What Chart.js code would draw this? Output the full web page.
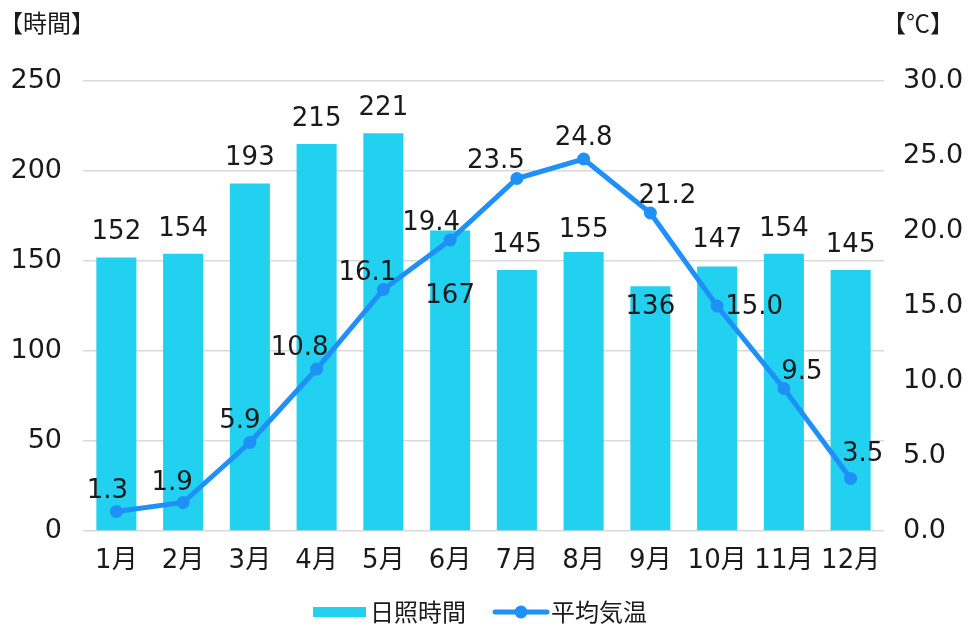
<!DOCTYPE html>
<html>
<head>
<meta charset="utf-8">
<script src="https://cdn.jsdelivr.net/npm/chart.js@4.4.1/dist/chart.umd.min.js"></script>
<style>
  html, body { margin: 0; padding: 0; background: #fff; }
  #wrap { width: 968px; height: 626px; }
</style>
</head>
<body>
<div id="wrap"><canvas id="climateChart" width="968" height="626"></canvas></div>
<script>
// ---- data ----
const months = ['1月', '2月', '3月', '4月', '5月', '6月', '7月', '8月', '9月', '10月', '11月', '12月'];
const sunshineHours = [152, 154, 193, 215, 221, 167, 145, 155, 136, 147, 154, 145];
const avgTemp = [1.3, 1.9, 5.9, 10.8, 16.1, 19.4, 23.5, 24.8, 21.2, 15.0, 9.5, 3.5];
const hoursAxis = {min: 0, max: 250, step: 50};
const tempAxis = {min: 0, max: 30, step: 5};
const seriesNames = ['日照時間', '平均気温'];
const axisTitles = ['【時間】', '【℃】'];

// ---- styles ----
const BAR_COLOR = '#22D0F0';
const LINE_COLOR = '#1E90F8';
const TEXT_COLOR = '#1a1a1a';
const GRID_COLOR = '#D9D9D9';
const FONT = "'DejaVu Sans', 'Noto Sans CJK JP', sans-serif";
const CJK_FONT = "'Noto Sans CJK JP', 'DejaVu Sans', sans-serif";

// label offsets relative to bar top / point centre
const barLabelDy = [-25, -25, -25, -25, -25, 66, -25, -22, 21, -26, -25, -25];
const lineLabelOffset = [
    [-9, -20], [-11, -19], [-10, -21], [-17, -21], [-16, -16], [-19, -17],
    [-21, -17], [0, -21], [17, -17], [37, 1], [18, -16], [12, -24]
];

// fixed chart area: left 83, right 884, top 81, bottom 531
const fixWidth = w => scale => { scale.width = w; };
const fixHeight = h => scale => { scale.height = h; };

const labelPlugin = {
    id: 'valueLabels',
    afterDatasetsDraw(chart) {
        const ctx = chart.ctx;
        ctx.save();
        ctx.fillStyle = TEXT_COLOR;
        ctx.font = '26px ' + FONT;
        ctx.textAlign = 'center';
        ctx.textBaseline = 'middle';

        // dataset 0 = bars, dataset 1 = line
        chart.getDatasetMeta(0).data.forEach((bar, i) => {
            ctx.fillText(String(sunshineHours[i]), bar.x, bar.y + barLabelDy[i]);
        });
        chart.getDatasetMeta(1).data.forEach((pt, i) => {
            const off = lineLabelOffset[i];
            ctx.fillText(avgTemp[i].toFixed(1), pt.x + off[0], pt.y + off[1]);
        });
        ctx.restore();
    }
};

const decorPlugin = {
    id: 'decor',
    afterDraw(chart) {
        const ctx = chart.ctx;
        ctx.save();
        ctx.fillStyle = TEXT_COLOR;
        ctx.textBaseline = 'middle';
        ctx.textAlign = 'left';

        // axis titles
        ctx.font = '24px ' + CJK_FONT;
        ctx.fillText(axisTitles[0], -1, 23);
        ctx.fillText(axisTitles[1], 882, 23);

        // legend
        const ly = 612;
        ctx.fillStyle = BAR_COLOR;
        ctx.fillRect(313, ly - 5, 53, 10);

        ctx.strokeStyle = LINE_COLOR;
        ctx.lineWidth = 5;
        ctx.lineCap = 'round';
        ctx.beginPath();
        ctx.moveTo(495, ly);
        ctx.lineTo(547, ly);
        ctx.stroke();
        ctx.fillStyle = LINE_COLOR;
        ctx.beginPath();
        ctx.arc(521, ly, 6.5, 0, Math.PI * 2);
        ctx.fill();

        ctx.fillStyle = TEXT_COLOR;
        ctx.font = '24px ' + CJK_FONT;
        ctx.fillText(seriesNames[0], 370, ly);
        ctx.fillText(seriesNames[1], 551, ly);
        ctx.restore();
    }
};

const ctx = document.getElementById('climateChart').getContext('2d');

new Chart(ctx, {
    data: {
        labels: months,
        datasets: [{
            type: 'bar',
            label: seriesNames[0],
            data: sunshineHours,
            yAxisID: 'yHours',
            backgroundColor: BAR_COLOR,
            barPercentage: 0.6,
            categoryPercentage: 1.0,
            order: 1
        }, {
            type: 'line',
            label: seriesNames[1],
            data: avgTemp,
            yAxisID: 'yTemp',
            borderColor: LINE_COLOR,
            backgroundColor: LINE_COLOR,
            borderWidth: 5,
            pointRadius: 6.5,
            pointBackgroundColor: LINE_COLOR,
            pointBorderWidth: 0,
            tension: 0,
            order: 0
        }]
    },
    options: {
        responsive: false,
        animation: false,
        devicePixelRatio: 1,
        layout: {
            padding: {top: 81, bottom: 0, left: 0, right: 0}
        },
        scales: {
            x: {
                afterFit: fixHeight(95),
                grid: {display: false, drawTicks: false},
                border: {display: false},
                ticks: {
                    color: TEXT_COLOR,
                    font: {family: FONT, size: 26},
                    padding: 15,
                    maxRotation: 0
                }
            },
            yHours: {
                position: 'left',
                min: hoursAxis.min,
                max: hoursAxis.max,
                afterFit: fixWidth(83),
                grid: {color: GRID_COLOR, lineWidth: 1.5, drawTicks: false},
                border: {display: false},
                ticks: {
                    stepSize: hoursAxis.step,
                    color: TEXT_COLOR,
                    font: {family: FONT, size: 27},
                    padding: 21
                }
            },
            yTemp: {
                position: 'right',
                min: tempAxis.min,
                max: tempAxis.max,
                afterFit: fixWidth(84),
                grid: {display: false, drawTicks: false},
                border: {display: false},
                ticks: {
                    stepSize: tempAxis.step,
                    color: TEXT_COLOR,
                    font: {family: FONT, size: 27},
                    padding: 19,
                    callback: v => Number(v).toFixed(1)
                }
            }
        },
        plugins: {
            legend: {display: false},
            tooltip: {enabled: false}
        }
    },
    plugins: [labelPlugin, decorPlugin]
});
</script>
</body>
</html>
